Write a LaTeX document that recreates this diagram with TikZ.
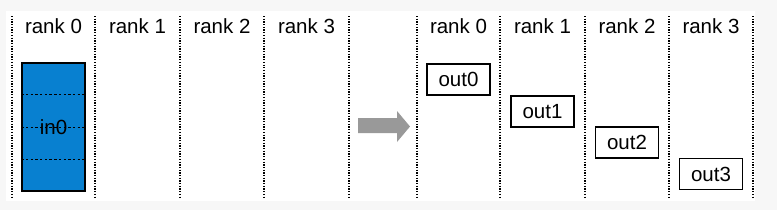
\documentclass[tikz,border=0pt]{standalone}
\usepackage{fontspec}
\setmainfont{Liberation Sans}
\usetikzlibrary{calc}

\definecolor{bufblue}{HTML}{0880D0}
\definecolor{arrowgray}{HTML}{999999}
\definecolor{pagegray}{HTML}{F7F7F7}

\begin{document}
\begin{tikzpicture}[
    x=0.03cm, y=-0.03cm,
    lbl/.style={font=\fontsize{17.5}{21}\selectfont, inner sep=0pt},
    ranksep/.style={line width=1.1pt, dash pattern=on 1.1pt off 1.2pt},
    cut/.style={line width=0.6pt, dash pattern=on 2pt off 2pt},
    outbox/.style={draw, line width=1.1pt, minimum width=1.89cm, minimum height=0.93cm,
                   font=\fontsize{17.5}{21}\selectfont, inner sep=0pt}
]
    % --- page ---
    \fill[pagegray] (0, 0) rectangle (777, 210);
    \fill[white] (6, 11) rectangle (755, 201);

    % --- before: rank columns ---
    \coordinate (la0) at (12, 16);  \coordinate (lb0) at (12, 198);
    \coordinate (la1) at (95, 16);  \coordinate (lb1) at (95, 198);
    \coordinate (la2) at (180, 16); \coordinate (lb2) at (180, 198);
    \coordinate (la3) at (264, 16); \coordinate (lb3) at (264, 198);
    \coordinate (la4) at (349, 16); \coordinate (lb4) at (349, 198);
    \foreach \i in {0,...,4}
        \draw[ranksep] (la\i) -- (lb\i);

    \node[lbl, anchor=base] (lrank0) at (53.5, 33) {rank 0};
    \node[lbl, anchor=base] (lrank1) at (137.5, 33) {rank 1};
    \node[lbl, anchor=base] (lrank2) at (222, 33) {rank 2};
    \node[lbl, anchor=base] (lrank3) at (306.5, 33) {rank 3};

    % --- input buffer ---
    \node[draw, line width=1.1pt, fill=bufblue, minimum width=1.89cm, minimum height=3.84cm,
          inner sep=0pt] (in0) at (53.5, 127) {};
    \foreach \f in {0.25, 0.5, 0.75}
        \draw[cut] ($(in0.north west)!\f!(in0.south west)$) -- ($(in0.north east)!\f!(in0.south east)$);
    \node[lbl] (in0lbl) at (in0) {in0};

    % --- arrow ---
    \fill[arrowgray] (358, 118) -- (397, 118) -- (397, 111) -- (410, 126.5)
        -- (397, 142) -- (397, 133) -- (358, 133) -- cycle;

    % --- after: rank columns ---
    \coordinate (ra0) at (417, 16); \coordinate (rb0) at (417, 198);
    \coordinate (ra1) at (500, 16); \coordinate (rb1) at (500, 198);
    \coordinate (ra2) at (585, 16); \coordinate (rb2) at (585, 198);
    \coordinate (ra3) at (669, 16); \coordinate (rb3) at (669, 198);
    \coordinate (ra4) at (753, 16); \coordinate (rb4) at (753, 198);
    \foreach \i in {0,...,4}
        \draw[ranksep] (ra\i) -- (rb\i);

    \node[lbl, anchor=base] (rrank0) at (458.5, 33) {rank 0};
    \node[lbl, anchor=base] (rrank1) at (542.5, 33) {rank 1};
    \node[lbl, anchor=base] (rrank2) at (627, 33) {rank 2};
    \node[lbl, anchor=base] (rrank3) at (711, 33) {rank 3};

    % --- output buffers ---
    \node[outbox] (out0) at (458.5, 79.5) {out0};
    \node[outbox] (out1) at (542.5, 111.5) {out1};
    \node[outbox] (out2) at (627, 142.5) {out2};
    \node[outbox] (out3) at (711, 174) {out3};
\end{tikzpicture}
\end{document}
